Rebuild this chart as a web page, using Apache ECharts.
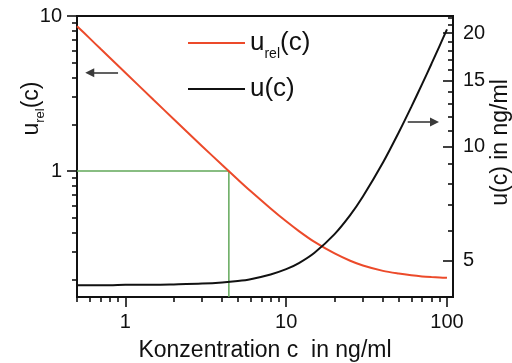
<!DOCTYPE html>
<html>
<head>
<meta charset="utf-8">
<script src="https://cdn.jsdelivr.net/npm/echarts@6/dist/echarts.min.js"></script>
<style>
  html, body { margin: 0; padding: 0; background: #fff; }
  #chart { width: 512px; height: 363px; }
</style>
</head>
<body>
<div id="chart"></div>
<script>
// Concentration c in ng/ml
const conc = [0.5, 0.6, 0.7, 0.8, 1, 1.5, 2, 3, 4, 5, 6, 8, 10, 12, 15, 20, 25, 30, 40, 50, 60, 70, 80, 90, 100];
// Absolute uncertainty u(c) in ng/ml (right axis)
const uAbs = [4.30, 4.30, 4.30, 4.30, 4.31, 4.31, 4.32, 4.34, 4.37, 4.41, 4.46, 4.59, 4.74, 4.92, 5.24, 5.87, 6.59, 7.38, 9.08, 10.89, 12.75, 14.65, 16.57, 18.51, 20.46];
// Relative uncertainty u_rel(c) (left axis)
const uRel = [8.60, 7.17, 6.14, 5.38, 4.31, 2.87, 2.16, 1.447, 1.093, 0.882, 0.743, 0.574, 0.474, 0.410, 0.349, 0.294, 0.264, 0.246, 0.227, 0.218, 0.2125, 0.209, 0.207, 0.2057, 0.2046];

// Guide lines marking u_rel = 1
const guideConc = [0.5, 4.4, 4.4];
const guideRel = [1, 1, 0.154];

// Axis ticks
const xMajor = [1, 10, 100];
const xMinor = [0.5, 0.6, 0.7, 0.8, 0.9, 2, 3, 4, 5, 6, 7, 8, 9, 20, 30, 40, 50, 60, 70, 80, 90];
const yLeftMajor = [1, 10];
const yLeftMinor = [0.2, 0.3, 0.4, 0.5, 0.6, 0.7, 0.8, 0.9, 2, 3, 4, 5, 6, 7, 8, 9];
const yRightMajor = [5, 10, 15, 20];
const yRightMinor = [4, 6, 7, 8, 9, 11, 12, 13, 14, 16, 17, 18, 19, 21, 22];

// Arrows pointing at the axis each curve belongs to
const arrowLeft = { y: 4.3, from: 0.9, to: 0.6 };
const arrowRight = { y: 2.07, from: 57, to: 83.6 };

// Axis ranges
const X_MIN = 0.5, X_MAX = 109;
const YL_MIN = 0.154, YL_MAX = 10;
const YR_MIN = 4, YR_MAX = 22.2;

// Plot box
const GRID = { left: 77, right: 59, top: 16, bottom: 66 };
const W = 512;

const FONT = '"Liberation Sans", Arial, Helvetica, sans-serif';
const RED = '#ec4a2a';
const BLACK = '#111111';
const GREEN = '#62a85a';
const MAJOR_LEN = 10;
const MINOR_LEN = 5;
const TICK_W = 1.6;

const chart = echarts.init(document.getElementById('chart'), null, { renderer: 'canvas' });

function xy(xs, ys) { return xs.map((x, i) => [x, ys[i]]); }

// Vertical-axis tick marks as short horizontal segments: the height comes from the
// axis value, the horizontal extent from the plot edge (outward on the left, inward on the right).
function yTickSegments(edgePx, major, minor) {
  const seg = (v, len) => [
    { coord: [1, v], x: edgePx, symbol: 'none' },
    { coord: [1, v], x: edgePx - len, symbol: 'none' }
  ];
  return major.map(v => seg(v, MAJOR_LEN)).concat(minor.map(v => seg(v, MINOR_LEN)));
}
const tickMarkLine = (data) => ({
  silent: true, animation: false,
  symbol: ['none', 'none'],
  label: { show: false },
  lineStyle: { color: BLACK, width: TICK_W, type: 'solid', opacity: 1 },
  emphasis: { disabled: true },
  data: data
});

const majorTick = (vals) => ({ show: true, length: MAJOR_LEN, customValues: vals, lineStyle: { color: BLACK, width: TICK_W } });
const minorTick = (vals) => ({ show: true, length: MINOR_LEN, customValues: vals, lineStyle: { color: BLACK, width: TICK_W } });
const labelStyle = { color: BLACK, fontSize: 20, fontFamily: FONT };

const option = {
  animation: false,
  backgroundColor: '#fff',
  grid: {
    left: GRID.left, right: GRID.right, top: GRID.top, bottom: GRID.bottom,
    containLabel: false, outerBoundsMode: 'none',
    show: true, borderColor: BLACK, borderWidth: 2, backgroundColor: 'transparent'
  },
  legend: [
    {
      data: ['u_rel(c)'], left: 183, top: 20, orient: 'vertical',
      icon: 'rect', itemWidth: 57, itemHeight: 2,
      formatter: () => '{a|u}{b|rel}{a|(c)}',
      textStyle: {
        color: BLACK, fontFamily: FONT,
        rich: {
          a: { fontSize: 26, fontFamily: FONT, color: BLACK, lineHeight: 26 },
          b: { fontSize: 14, fontFamily: FONT, color: BLACK, lineHeight: 14, padding: [22, 0, 0, 0] }
        }
      }
    },
    {
      data: ['u(c)'], left: 183, top: 65, orient: 'vertical',
      icon: 'rect', itemWidth: 57, itemHeight: 2,
      textStyle: { color: BLACK, fontFamily: FONT, fontSize: 26, lineHeight: 26, padding: [12, 0, 0, 0] }
    }
  ],
  xAxis: [
    {
      type: 'log', logBase: 10, min: X_MIN, max: X_MAX, position: 'bottom',
      name: 'Konzentration c  in ng/ml', nameLocation: 'middle', nameGap: 42, nameMoveOverlap: false,
      nameTextStyle: { color: BLACK, fontSize: 23, fontFamily: FONT },
      axisLine: { show: true, onZero: false, lineStyle: { color: BLACK, width: 2 } },
      axisTick: majorTick(xMajor),
      axisLabel: Object.assign({ margin: 15, customValues: xMajor }, labelStyle),
      splitLine: { show: false }, minorTick: { show: false }
    },
    {
      type: 'log', logBase: 10, min: X_MIN, max: X_MAX, position: 'bottom',
      axisLine: { show: false, onZero: false },
      axisTick: minorTick(xMinor),
      axisLabel: { show: false },
      splitLine: { show: false }
    }
  ],
  yAxis: [
    {
      type: 'log', logBase: 10, min: YL_MIN, max: YL_MAX, position: 'left',
      name: '{a|u}{b|rel}{a|(c)}', nameLocation: 'middle', nameGap: 34, nameRotate: 90, nameMoveOverlap: false,
      nameTextStyle: {
        color: BLACK, fontFamily: FONT, padding: [0, 0, 0, 96],
        rich: {
          a: { fontSize: 23, fontFamily: FONT, color: BLACK, lineHeight: 23 },
          b: { fontSize: 13, fontFamily: FONT, color: BLACK, lineHeight: 13, padding: [18, 0, 0, 0] }
        }
      },
      axisLine: { show: true, onZero: false, lineStyle: { color: BLACK, width: 2 } },
      axisTick: { show: false },
      axisLabel: Object.assign({ margin: 15, customValues: yLeftMajor }, labelStyle),
      splitLine: { show: false }
    },
    {
      type: 'log', logBase: 10, min: YR_MIN, max: YR_MAX, position: 'right',
      name: 'u(c) in ng/ml', nameLocation: 'middle', nameGap: 36, nameRotate: 90, nameMoveOverlap: false,
      nameTextStyle: { color: BLACK, fontSize: 23, fontFamily: FONT, padding: [0, 0, 0, 28] },
      axisLine: { show: true, onZero: false, lineStyle: { color: BLACK, width: 2 } },
      axisTick: { show: false },
      axisLabel: Object.assign({ margin: 10, customValues: yRightMajor }, labelStyle),
      splitLine: { show: false }
    }
  ],
  series: [
    {
      name: 'u_rel(c)', type: 'line', xAxisIndex: 0, yAxisIndex: 0,
      data: xy(conc, uRel), smooth: 0.3, showSymbol: false, symbol: 'none',
      itemStyle: { color: RED }, lineStyle: { color: RED, width: 2 },
      z: 3,
      markLine: {
        silent: true, symbol: ['none', 'triangle'], symbolSize: 9,
        label: { show: false },
        lineStyle: { color: '#3a3a3a', width: 1.6, type: 'solid' },
        emphasis: { disabled: true },
        data: [
          [{ coord: [arrowLeft.from, arrowLeft.y] }, { coord: [arrowLeft.to, arrowLeft.y] }],
          [{ coord: [arrowRight.from, arrowRight.y] }, { coord: [arrowRight.to, arrowRight.y] }]
        ]
      }
    },
    {
      name: 'u(c)', type: 'line', xAxisIndex: 0, yAxisIndex: 1,
      data: xy(conc, uAbs), smooth: 0.3, showSymbol: false, symbol: 'none',
      itemStyle: { color: BLACK }, lineStyle: { color: BLACK, width: 2 },
      z: 3,
      markLine: tickMarkLine(yTickSegments(W - GRID.right, yRightMajor, yRightMinor))
    },
    {
      name: 'guide', type: 'line', xAxisIndex: 0, yAxisIndex: 0,
      data: xy(guideConc, guideRel), showSymbol: false, symbol: 'none',
      itemStyle: { color: GREEN }, lineStyle: { color: GREEN, width: 1.5 },
      z: 2, silent: true,
      markLine: tickMarkLine(yTickSegments(GRID.left, yLeftMajor, yLeftMinor))
    }
  ]
};

chart.setOption(option);
</script>
</body>
</html>
